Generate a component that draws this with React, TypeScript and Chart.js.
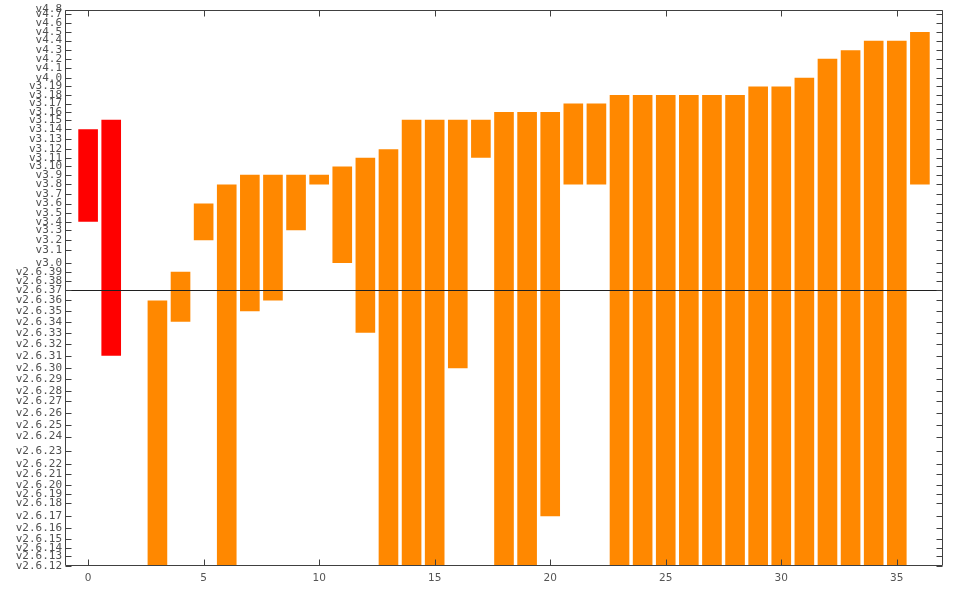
import React, { useEffect, useRef } from "react";
import { Chart, registerables } from "chart.js";

Chart.register(...registerables);

// Kernel releases shown on the y axis (time axis)
const versions = [
  "v2.6.12", "v2.6.13", "v2.6.14", "v2.6.15", "v2.6.16", "v2.6.17", "v2.6.18", "v2.6.19",
  "v2.6.20", "v2.6.21", "v2.6.22", "v2.6.23", "v2.6.24", "v2.6.25", "v2.6.26", "v2.6.27",
  "v2.6.28", "v2.6.29", "v2.6.30", "v2.6.31", "v2.6.32", "v2.6.33", "v2.6.34", "v2.6.35",
  "v2.6.36", "v2.6.37", "v2.6.38", "v2.6.39", "v3.0", "v3.1", "v3.2", "v3.3", "v3.4",
  "v3.5", "v3.6", "v3.7", "v3.8", "v3.9", "v3.10", "v3.11", "v3.12", "v3.13", "v3.14",
  "v3.15", "v3.16", "v3.17", "v3.18", "v3.19", "v4.0", "v4.1", "v4.2", "v4.3", "v4.4",
  "v4.5", "v4.6", "v4.7", "v4.8",
];

const releaseDates = [
  "2005-06-17", "2005-08-28", "2005-10-27", "2006-01-02", "2006-03-20", "2006-06-17", "2006-09-20", "2006-11-29",
  "2007-02-04", "2007-04-25", "2007-07-08", "2007-10-09", "2008-01-24", "2008-04-16", "2008-07-13", "2008-10-09",
  "2008-12-24", "2009-03-23", "2009-06-09", "2009-09-09", "2009-12-03", "2010-02-24", "2010-05-16", "2010-08-01",
  "2010-10-20", "2011-01-05", "2011-03-14", "2011-05-19", "2011-07-22", "2011-10-24", "2012-01-05", "2012-03-18", "2012-05-20",
  "2012-07-21", "2012-09-30", "2012-12-11", "2013-02-18", "2013-04-29", "2013-06-30", "2013-09-02", "2013-11-03", "2014-01-20", "2014-03-30",
  "2014-06-08", "2014-08-03", "2014-10-05", "2014-12-07", "2015-02-08", "2015-04-12", "2015-06-22", "2015-08-30", "2015-11-01", "2016-01-10",
  "2016-03-13", "2016-05-15", "2016-07-24", "2016-08-25",
];

// Red bars
const redIndex = [0, 1];
const redStart = ["v3.4", "v2.6.31"];
const redEnd = ["v3.14", "v3.15"];

// Orange bars
const orangeIndex = [
  3, 4, 5, 6, 7, 8, 9, 10, 11, 12, 13, 14, 15, 16, 17, 18, 19, 20, 21, 22,
  23, 24, 25, 26, 27, 28, 29, 30, 31, 32, 33, 34, 35, 36,
];
const orangeStart = [
  "v2.6.12", "v2.6.34", "v3.2", "v2.6.12", "v2.6.35", "v2.6.36", "v3.3", "v3.8", "v3.0", "v2.6.33",
  "v2.6.12", "v2.6.12", "v2.6.12", "v2.6.30", "v3.11", "v2.6.12", "v2.6.12", "v2.6.17", "v3.8", "v3.8",
  "v2.6.12", "v2.6.12", "v2.6.12", "v2.6.12", "v2.6.12", "v2.6.12", "v2.6.12", "v2.6.12", "v2.6.12", "v2.6.12",
  "v2.6.12", "v2.6.12", "v2.6.12", "v3.8",
];
const orangeEnd = [
  "v2.6.36", "v2.6.39", "v3.6", "v3.8", "v3.9", "v3.9", "v3.9", "v3.9", "v3.10", "v3.11",
  "v3.12", "v3.15", "v3.15", "v3.15", "v3.15", "v3.16", "v3.16", "v3.16", "v3.17", "v3.17",
  "v3.18", "v3.18", "v3.18", "v3.18", "v3.18", "v3.18", "v3.19", "v3.19", "v4.0", "v4.2",
  "v4.3", "v4.4", "v4.4", "v4.5",
];

const markerVersion = "v2.6.37";
const xTicks = [0, 5, 10, 15, 20, 25, 30, 35];
const xMin = -1;
const xMax = 37;

const DAY = 86400000;
const base = Date.parse(releaseDates[0]);
const dayOf = (v: string) => (Date.parse(releaseDates[versions.indexOf(v)]) - base) / DAY;
const versionDays = versions.map((v) => dayOf(v));

const AXIS = "#404040";

const framePlugin = {
  id: "gnuFrame",
  afterDatasetsDraw(chart: any) {
    const { ctx, chartArea: a, scales } = chart;
    const xs = scales.x;
    const ys = scales.y;
    ctx.save();
    // marker line
    const my = Math.round(ys.getPixelForValue(dayOf(markerVersion))) + 0.5;
    ctx.strokeStyle = "#202020";
    ctx.lineWidth = 1;
    ctx.beginPath();
    ctx.moveTo(a.left, my);
    ctx.lineTo(a.right, my);
    ctx.stroke();

    ctx.strokeStyle = AXIS;
    ctx.beginPath();
    const L = Math.round(a.left) + 0.5;
    const R = Math.round(a.right) - 0.5;
    const T = Math.round(a.top) + 0.5;
    const B = Math.round(a.bottom) - 0.5;
    ctx.moveTo(L, T);
    ctx.lineTo(R, T);
    ctx.lineTo(R, B);
    ctx.lineTo(L, B);
    ctx.closePath();
    for (const t of ys.ticks) {
      const py = Math.round(ys.getPixelForValue(t.value)) + 0.5;
      ctx.moveTo(L, py);
      ctx.lineTo(L + 6, py);
      ctx.moveTo(R, py);
      ctx.lineTo(R - 6, py);
    }
    for (const t of xs.ticks) {
      const px = Math.round(xs.getPixelForValue(t.value)) + 0.5;
      ctx.moveTo(px, T);
      ctx.lineTo(px, T + 6);
      ctx.moveTo(px, B);
      ctx.lineTo(px, B - 6);
    }
    ctx.stroke();
    ctx.restore();
  },
};

export default function App() {
  const ref = useRef<HTMLCanvasElement | null>(null);

  useEffect(() => {
    document.body.style.margin = "0";
    const canvas = ref.current;
    if (!canvas) return;

    const redData = redIndex.map((x, i) => ({ x, y: [dayOf(redStart[i]), dayOf(redEnd[i])] }));
    const orangeData = orangeIndex.map((x, i) => ({ x, y: [dayOf(orangeStart[i]), dayOf(orangeEnd[i])] }));

    const chart = new Chart(canvas, {
      type: "bar",
      data: {
        datasets: [
          {
            data: redData as any,
            backgroundColor: "#ff0000",
            borderWidth: 0,
            grouped: false,
            barPercentage: 0.85,
            categoryPercentage: 1,
          },
          {
            data: orangeData as any,
            backgroundColor: "#ff8800",
            borderWidth: 0,
            grouped: false,
            barPercentage: 0.85,
            categoryPercentage: 1,
          },
        ],
      },
      options: {
        animation: false,
        responsive: false,
        devicePixelRatio: 1,
        layout: { padding: { left: 0, right: 17, top: 7, bottom: 0 } },
        plugins: {
          legend: { display: false },
          tooltip: { enabled: false },
          title: { display: false },
        },
        scales: {
          x: {
            type: "linear",
            min: xMin,
            max: xMax,
            offset: false,
            grid: { display: false, drawTicks: false },
            border: { display: false },
            afterBuildTicks: (scale: any) => {
              scale.ticks = xTicks.map((v) => ({ value: v }));
            },
            afterFit: (scale: any) => {
              scale.height = 23;
            },
            ticks: {
              autoSkip: false,
              maxRotation: 0,
              padding: 6,
              color: "#555555",
              font: { family: "'DejaVu Sans'", size: 10.5 },
              callback: (v: any) => String(v),
            },
          },
          y: {
            type: "linear",
            min: versionDays[0],
            max: versionDays[versionDays.length - 1],
            grid: { display: false, drawTicks: false },
            border: { display: false },
            afterBuildTicks: (scale: any) => {
              scale.ticks = versionDays.map((v) => ({ value: v }));
            },
            afterFit: (scale: any) => {
              scale.width = 65;
            },
            ticks: {
              autoSkip: false,
              padding: 3,
              color: "#505050",
              font: { family: "'DejaVu Sans Mono'", size: 11 },
              callback: (_v: any, i: number) => versions[i],
            },
          },
        },
      },
      plugins: [framePlugin],
    } as any);

    return () => chart.destroy();
  }, []);

  return (
    <canvas
      ref={ref}
      width={960}
      height={589}
      style={{ display: "block", width: 960, height: 589 }}
    />
  );
}
